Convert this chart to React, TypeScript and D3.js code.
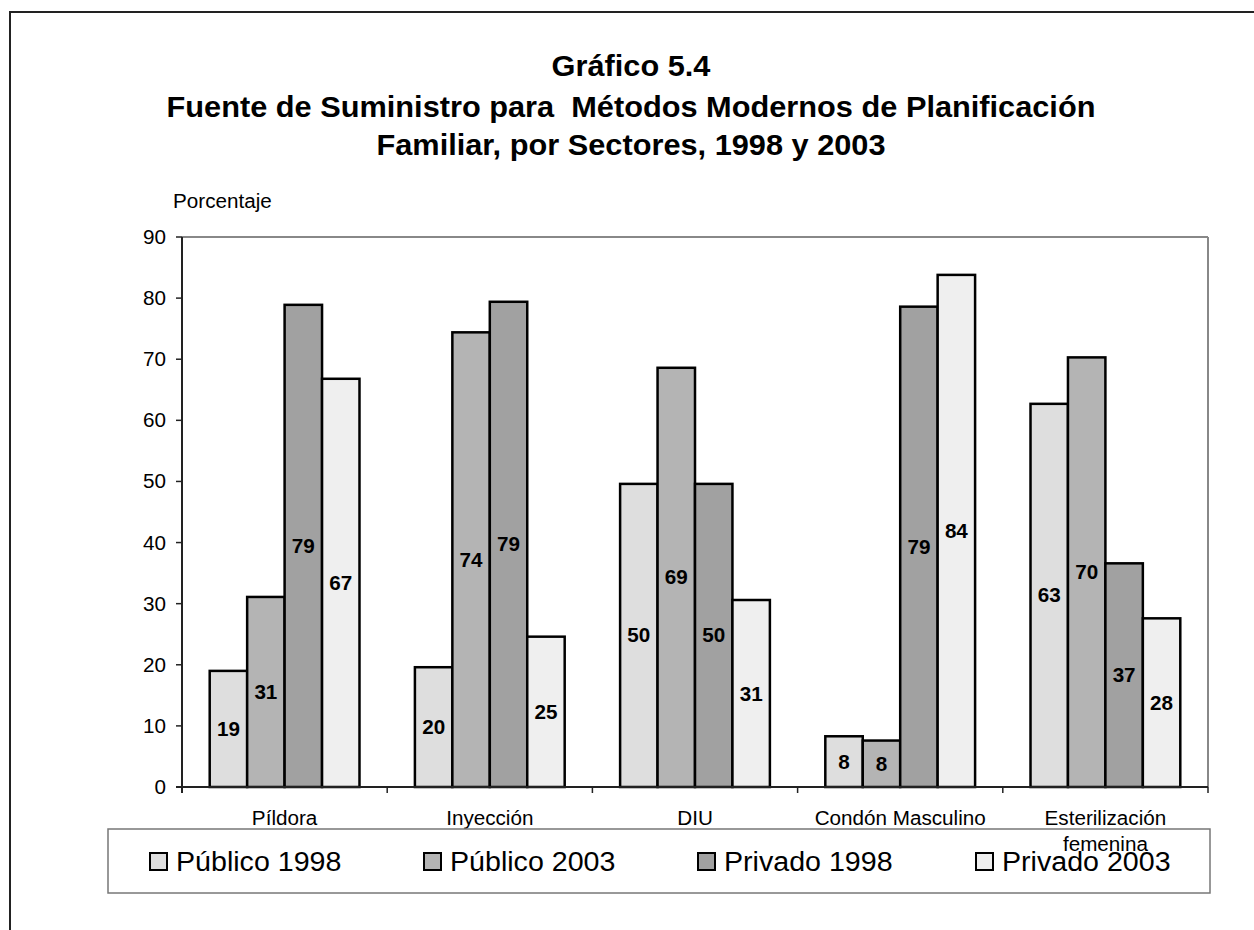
import React from "react";
import * as d3 from "d3";

const categories = ["Píldora", "Inyección", "DIU", "Condón Masculino", "Esterilización femenina"];
const series = ["Público 1998", "Público 2003", "Privado 1998", "Privado 2003"];
const publico1998 = [19.0, 19.6, 49.6, 8.3, 62.7];
const publico2003 = [31.1, 74.4, 68.6, 7.6, 70.3];
const privado1998 = [78.9, 79.4, 49.6, 78.6, 36.6];
const privado2003 = [66.8, 24.6, 30.6, 83.8, 27.6];
const yTicks = [0, 10, 20, 30, 40, 50, 60, 70, 80, 90];
const titleLines = [
  "Gráfico 5.4",
  "Fuente de Suministro para  Métodos Modernos de Planificación",
  "Familiar, por Sectores, 1998 y 2003",
];

const seriesValues = [publico1998, publico2003, privado1998, privado2003];
const colors = ["#dedede", "#b4b4b4", "#a1a1a1", "#efefef"];
const FONT = "'Liberation Sans', Arial, Helvetica, sans-serif";
const SX = 1.06;

function T(props: { x: number; y: number; size: number; bold?: boolean; anchor?: string; children: any; fill?: string }) {
  const { x, y, size, bold, anchor, children, fill } = props;
  return (
    <g transform={`translate(${x},${y}) scale(${SX},1)`}>
      <text
        x={0}
        y={0}
        fontFamily={FONT}
        fontSize={size}
        fontWeight={bold ? "bold" : "normal"}
        textAnchor={anchor || "start"}
        fill={fill || "#000"}
        style={{ whiteSpace: "pre" }}
      >
        {children}
      </text>
    </g>
  );
}

export default function App() {
  const W = 1254, H = 930;
  const left = 182, right = 1208, top = 237, bottom = 787;
  const y = d3.scaleLinear().domain([0, 90]).range([bottom, top]);
  const x0 = d3.scaleBand<string>().domain(categories).range([left, right]).paddingInner(0).paddingOuter(0);
  const x1 = d3.scaleBand<string>().domain(series).range([0, x0.bandwidth()]).paddingInner(0).paddingOuter(0.74);

  const legendX = [149, 423, 697, 975];
  const titleY = [76, 117, 155];

  return (
    <svg width={W} height={H} style={{ position: "absolute", left: 0, top: 0, display: "block", background: "#fff" }}>
      <rect x={0} y={0} width={W} height={H} fill="#fff" />
      {/* outer border */}
      <rect x={10} y={12} width={1400} height={1200} fill="none" stroke="#222" strokeWidth={2} />

      {/* title */}
      {titleLines.map((t, i) => (
        <T key={i} x={631} y={titleY[i]} size={29} bold anchor="middle">{t}</T>
      ))}

      <T x={173} y={208} size={19.5}>Porcentaje</T>

      {/* plot frame top/right */}
      <line x1={left} x2={right} y1={top} y2={top} stroke="#888" strokeWidth={2} />
      <line x1={right} x2={right} y1={top} y2={bottom} stroke="#888" strokeWidth={2} />

      {/* bars */}
      {categories.map((c, ci) => (
        <g key={c} transform={`translate(${x0(c)},0)`}>
          {series.map((s, si) => {
            const v = seriesValues[si][ci];
            const bx = x1(s)!;
            const bw = x1.bandwidth();
            return (
              <rect key={s} x={bx} y={y(v)} width={bw} height={y(0) - y(v)} fill={colors[si]} stroke="#000" strokeWidth={2.5} />
            );
          })}
        </g>
      ))}

      {/* axes */}
      <line x1={left} x2={left} y1={top} y2={bottom + 6} stroke="#222" strokeWidth={2} />
      <line x1={left - 6} x2={right} y1={bottom} y2={bottom} stroke="#222" strokeWidth={2} />
      {yTicks.map((t) => (
        <g key={t}>
          <line x1={left - 6} x2={left} y1={y(t)} y2={y(t)} stroke="#222" strokeWidth={1.5} />
          <T x={166} y={y(t) + 7} size={19.5} anchor="end">{t}</T>
        </g>
      ))}
      {categories.map((c) => (
        <line key={c} x1={x0(c)! + x0.bandwidth()} x2={x0(c)! + x0.bandwidth()} y1={bottom} y2={bottom + 6} stroke="#222" strokeWidth={1.5} />
      ))}

      {/* data labels */}
      {categories.map((c, ci) => (
        <g key={c}>
          {series.map((s, si) => {
            const v = seriesValues[si][ci];
            const cx = x0(c)! + x1(s)! + x1.bandwidth() / 2;
            const cy = (y(v) + y(0)) / 2;
            return (
              <T key={s} x={cx} y={cy + 7} size={19.5} bold anchor="middle">{Math.round(v)}</T>
            );
          })}
        </g>
      ))}

      {/* category labels */}
      {categories.map((c) => {
        const cx = x0(c)! + x0.bandwidth() / 2;
        const lines = c === "Esterilización femenina" ? ["Esterilización", "femenina"] : [c];
        return lines.map((ln, li) => (
          <T key={c + li} x={cx} y={825 + li * 26} size={19.5} anchor="middle">{ln}</T>
        ));
      })}

      {/* legend */}
      <rect x={108} y={829} width={1102} height={64} fill="none" stroke="#777" strokeWidth={1.5} />
      {series.map((s, i) => (
        <g key={s}>
          <rect x={legendX[i] + 1} y={853} width={17} height={17} fill={colors[i]} stroke="#000" strokeWidth={2} />
          <T x={legendX[i] + 27} y={871} size={27}>{s}</T>
        </g>
      ))}
    </svg>
  );
}
